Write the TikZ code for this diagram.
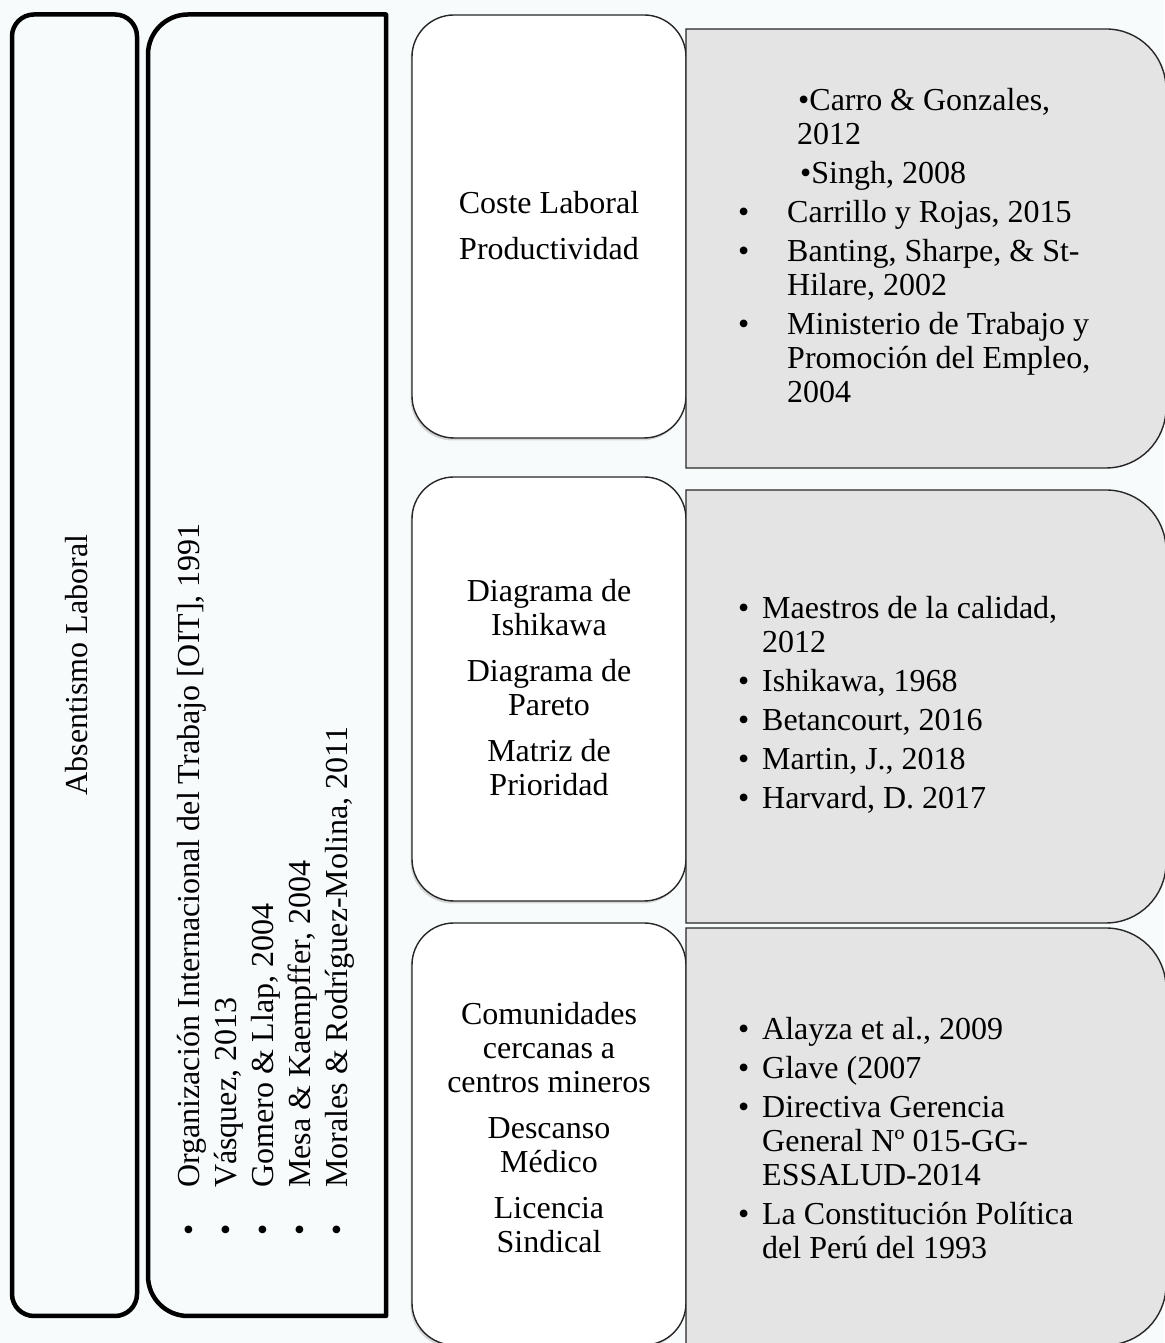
\documentclass[tikz,border=0pt]{standalone}
\usepackage{fontspec}
\setmainfont{Liberation Serif}
\usetikzlibrary{shadows}
\definecolor{bgc}{RGB}{248,251,252}
\definecolor{refgray}{RGB}{228,228,228}
\tikzset{
  heavybox/.style={draw=black, line width=4.5pt, line join=round},
  midbox/.style={draw=black!85, line width=1.4pt, fill=white, rounded corners=42pt,
    minimum width=274pt, inner sep=0pt,
    drop shadow={shadow xshift=-1.5pt, shadow yshift=-2.5pt, opacity=.3}},
  refbox/.style={draw=black!85, line width=1.4pt, fill=refgray},
  txt/.style={font=\fontsize{32}{34}\selectfont, inner sep=0pt, text=black},
}
\begin{document}
\begin{tikzpicture}[x=1pt,y=1pt]
\useasboundingbox (0,0) rectangle (1164,1343);
\fill[bgc] (0,0) rectangle (1164,1343);

% left column
\node[heavybox, rounded corners=22pt, minimum width=125pt, minimum height=1301.5pt, inner sep=0pt] (b1) at (74.5,677.75) {};
\node[txt, rotate=90, anchor=base] (abs) at (87,678) {Absentismo Laboral};

\draw[heavybox] (386,27) -- (386,1328.5) -- (188,1328.5) arc[start angle=90, end angle=180, radius=40pt]
  -- (148,67) arc[start angle=180, end angle=270, radius=40pt] -- cycle;
\node[txt, rotate=90, anchor=base west] (l1) at (199,107) {\makebox[48pt][l]{•}Organización Internacional del Trabajo [OIT], 1991};
\node[txt, rotate=90, anchor=base west] (l2) at (236.2,107) {\makebox[48pt][l]{•}Vásquez, 2013};
\node[txt, rotate=90, anchor=base west] (l3) at (273.4,107) {\makebox[48pt][l]{•}Gomero \& Llap, 2004};
\node[txt, rotate=90, anchor=base west] (l4) at (310.6,107) {\makebox[48pt][l]{•}Mesa \& Kaempffer, 2004};
\node[txt, rotate=90, anchor=base west] (l5) at (347.8,107) {\makebox[48pt][l]{•}Morales \& Rodríguez-Molina, 2011};

% middle column
\node[midbox, minimum height=423pt] (mA) at (549,1116.5) {};
\node[midbox, minimum height=424pt] (mB) at (549,654) {};
\node[midbox, minimum height=422pt] (mC) at (549,209) {};
\node[txt, align=center] (tA) at (549,1117) {Coste Laboral\\[12pt]Productividad};
\node[txt, align=center] (tB) at (549,655) {Diagrama de\\Ishikawa\\[12pt]Diagrama de\\Pareto\\[12pt]Matriz de\\Prioridad};
\node[txt, align=center] (tC) at (549,215) {Comunidades\\cercanas a\\centros mineros\\[12pt]Descanso\\Médico\\[12pt]Licencia\\Sindical};

% right column
\draw[refbox] (686,875) -- (686,1314) -- (1106,1314) arc[start angle=90, end angle=0, radius=60pt]
  -- (1166,935) arc[start angle=0, end angle=-90, radius=60pt] -- cycle;
\draw[refbox] (686,420) -- (686,853) -- (1106,853) arc[start angle=90, end angle=0, radius=60pt]
  -- (1166,480) arc[start angle=0, end angle=-90, radius=60pt] -- cycle;
\draw[refbox] (686,-2) -- (686,415) -- (1106,415) arc[start angle=90, end angle=0, radius=60pt]
  -- (1166,58) arc[start angle=0, end angle=-90, radius=60pt] -- cycle;

\node[txt, align=left, anchor=west] (rA) at (738,1097) {\hspace*{60pt}•Carro \& Gonzales,\\
\hspace*{59pt}2012\\[5pt]
\hspace*{62pt}•Singh, 2008\\[5pt]
\makebox[49pt][l]{•}Carrillo y Rojas, 2015\\[5pt]
\makebox[49pt][l]{•}Banting, Sharpe, \& St-\\
\hspace*{49pt}Hilare, 2002\\[5pt]
\makebox[49pt][l]{•}Ministerio de Trabajo y\\
\hspace*{49pt}Promoción del Empleo,\\
\hspace*{49pt}2004};

\node[txt, align=left, anchor=west] (rB) at (738,638) {\makebox[24pt][l]{•}Maestros de la calidad,\\
\hspace*{24pt}2012\\[5pt]
\makebox[24pt][l]{•}Ishikawa, 1968\\[5pt]
\makebox[24pt][l]{•}Betancourt, 2016\\[5pt]
\makebox[24pt][l]{•}Martin, J., 2018\\[5pt]
\makebox[24pt][l]{•}Harvard, D. 2017};

\node[txt, align=left, anchor=west] (rC) at (738,205) {\makebox[24pt][l]{•}Alayza et al., 2009\\[5pt]
\makebox[24pt][l]{•}Glave (2007\\[5pt]
\makebox[24pt][l]{•}Directiva Gerencia\\
\hspace*{24pt}General Nº 015-GG-\\
\hspace*{24pt}ESSALUD-2014\\[5pt]
\makebox[24pt][l]{•}La Constitución Política\\
\hspace*{24pt}del Perú del 1993};
\end{tikzpicture}
\end{document}
